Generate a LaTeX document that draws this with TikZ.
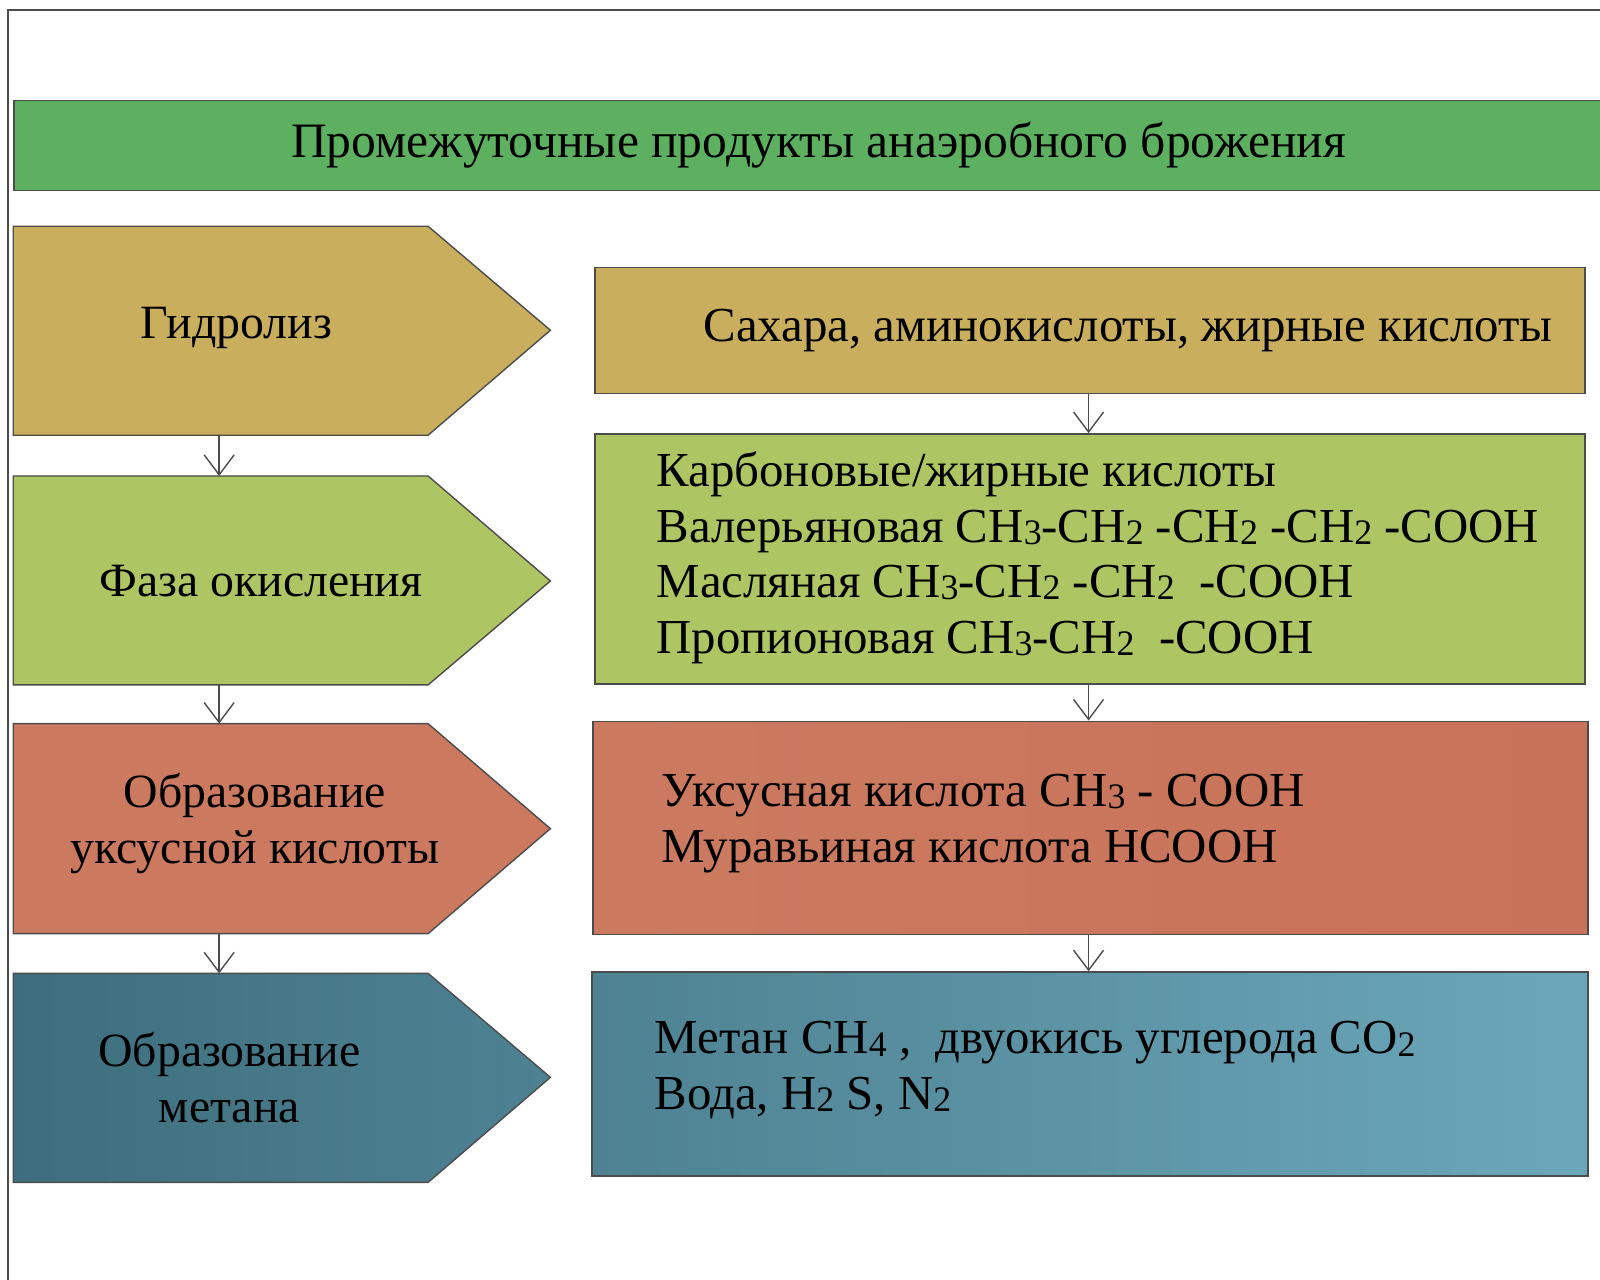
\documentclass[border=0pt]{standalone}
\usepackage{tikz}
\usepackage{fontspec}
\setmainfont{Liberation Serif}
\usetikzlibrary{arrows.meta,positioning}
\definecolor{titlegreen}{HTML}{5CB060}
\definecolor{hydro}{HTML}{C9AE5E}
\definecolor{oxid}{HTML}{ADC663}
\definecolor{acet}{HTML}{CB7A60}
\definecolor{acetR}{HTML}{C87259}
\definecolor{methL}{HTML}{3E6E7E}
\definecolor{methM}{HTML}{4E8292}
\definecolor{methR}{HTML}{6BA7BA}
\tikzset{
  box/.style={draw=black!70,line width=0.4pt},
  lbl/.style={font=\fontsize{13.6}{15.8}\selectfont,align=center},
  rtxt/.style={font=\fontsize{13.9}{15.8}\selectfont,anchor=west,align=left},
  flow/.style={draw=black!70,line width=0.4pt,-{Straight Barb[length=2mm,width=3mm]}},
}
\newcommand{\sub}[1]{\raisebox{-0.1ex}{\fontsize{10.2}{10}\selectfont #1}}
\begin{document}
\begin{tikzpicture}[x=0.0102cm,y=-0.0102cm]
\useasboundingbox (0,0) rectangle (16cm,-12.8cm);
\draw[black!70,line width=0.4pt] (8,10) rectangle (1591,1274);

% title
\node[box,fill=titlegreen,minimum width=16.09cm,minimum height=0.9cm,anchor=north west,inner sep=0pt,
  font=\fontsize{14.1}{15}\selectfont] (title) at (13,98) {Промежуточные продукты анаэробного брожения};

% stages on the left
\draw[box,fill=hydro] (13,222) -- (420,222) -- (540,324) -- (420,427) -- (13,427) -- cycle;
\draw[box,fill=oxid] (13,467) -- (420,467) -- (540,570) -- (420,672) -- (13,672) -- cycle;
\draw[box,fill=acet] (13,710) -- (420,710) -- (540,813) -- (420,916) -- (13,916) -- cycle;
\draw[box,left color=methL,right color=methM] (13,955) -- (420,955) -- (540,1057) -- (420,1160) -- (13,1160) -- cycle;

\coordinate (s1b) at (215,427); \coordinate (s2t) at (215,467);
\coordinate (s2b) at (215,672); \coordinate (s3t) at (215,710);
\coordinate (s3b) at (215,916); \coordinate (s4t) at (215,955);

\node[lbl] (hydr) at (232,322) {Гидролиз};
\node[lbl] (oxi) at (256,570) {Фаза окисления};
\node[lbl] (acid) at (250,808) {Образование\\уксусной кислоты};
\node[lbl] (meth) at (225,1057) {Образование\\метана};

% products on the right
\node[box,fill=hydro,minimum width=9.9cm,minimum height=1.255cm,anchor=north west,inner sep=0pt] (p1) at (583,262) {};
\node[box,fill=oxid,minimum width=9.9cm,minimum height=2.5cm,anchor=north west,inner sep=0pt] (p2) at (583,425) {};
\node[box,left color=acet,right color=acetR,minimum width=9.95cm,minimum height=2.13cm,anchor=north west,inner sep=0pt] (p3) at (581,707) {};
\node[box,left color=methM,right color=methR,minimum width=9.96cm,minimum height=2.04cm,anchor=north west,inner sep=0pt] (p4) at (580,953) {};

\node[rtxt] (t1) at (678,324) {Сахара, аминокислоты, жирные кислоты};
\node[rtxt] (t2) at (632,547) {Карбоновые/жирные кислоты\\
  Валерьяновая CH\sub{3}-CH\sub{2} -CH\sub{2} -CH\sub{2} -COOH\\
  Масляная CH\sub{3}-CH\sub{2} -CH\sub{2} \ -COOH\\
  Пропионовая CH\sub{3}-CH\sub{2} \ -COOH};
\node[rtxt] (t3) at (637,808) {Уксусная кислота CH\sub{3} - COOH\\
  Муравьиная кислота HCOOH};
\node[rtxt] (t4) at (630,1050) {Метан CH\sub{4} ,\ \ двуокись углерода CO\sub{2}\\
  Вода, H\sub{2} S, N\sub{2}};

% connectors
\draw[flow] (s1b) -- (s2t);
\draw[flow] (s2b) -- (s3t);
\draw[flow] (s3b) -- (s4t);
\draw[flow] (p1.south -| 1068,0) -- (p2.north -| 1068,0);
\draw[flow] (p2.south -| 1068,0) -- (p3.north -| 1068,0);
\draw[flow] (p3.south -| 1068,0) -- (p4.north -| 1068,0);
\end{tikzpicture}
\end{document}
